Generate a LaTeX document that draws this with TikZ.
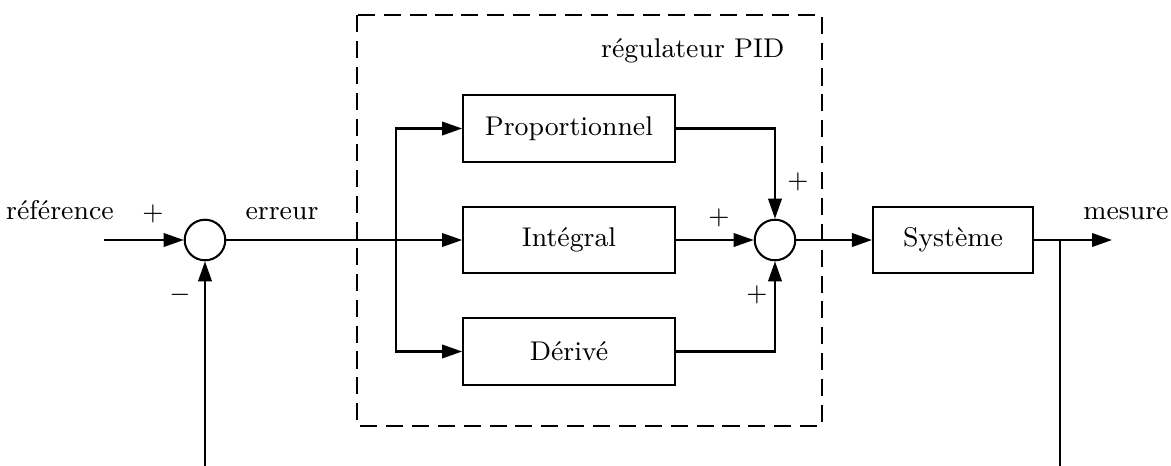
\documentclass[tikz,border=0pt]{standalone}
\usetikzlibrary{arrows.meta}
\begin{document}
\begin{tikzpicture}[x=0.34pt,y=-0.34pt,
  font=\fontsize{9.2pt}{11pt}\selectfont,
  blockbox/.style={draw, line width=0.7pt, minimum width=72pt, minimum height=22.6pt, inner sep=0pt},
  sumnode/.style={draw, circle, line width=0.7pt, minimum size=13.8pt, inner sep=0pt},
  conn/.style={line width=0.7pt},
  arr/.style={conn, -{Triangle[length=6.8pt,width=4.6pt]}},
  lbl/.style={inner sep=0pt, anchor=base},
  sign/.style={inner sep=0pt},
  pidframe/.style={line width=0.9pt, dash pattern=on 5.8pt off 3pt}]
\useasboundingbox (0,0) rectangle (1171,465);
% frame
\draw[pidframe] (357,15) rectangle (822,426);
\node[lbl, anchor=base east] (pidlbl) at (785,57) {régulateur PID};
% nodes
\node[sumnode] (s1) at (205,240) {};
\node[sumnode] (s2) at (775,240) {};
\node[blockbox] (P) at (569,128.5) {Proportionnel};
\node[blockbox] (I) at (569,240) {Intégral};
\node[blockbox] (D) at (569,351.5) {Dérivé};
\node[blockbox, minimum width=54.4pt, minimum height=22.2pt] (S) at (953,240) {Système};
% coordinates
\coordinate (in) at (104,240);
\coordinate (br) at (396,240);
\coordinate (fb) at (1060,240);
\coordinate (out) at (1112,240);
\coordinate (fbb) at (1060,500);
% connectors
\draw[arr] (in) -- (s1.west);
\draw[conn] (s1.east) -- (br);
\draw[arr] (br) -- (I.west);
\draw[arr] (br) |- (P.west);
\draw[arr] (br) |- (D.west);
\draw[arr] (P.east) -| (s2.north);
\draw[arr] (I.east) -- (s2.west);
\draw[arr] (D.east) -| (s2.south);
\draw[arr] (s2.east) -- (S.west);
\draw[arr] (S.east) -- (out);
\draw[arr] (fb) -- (fbb) -| (s1.south);
% labels
\node[lbl] (lref) at (60,219) {référence};
\node[lbl] (lerr) at (282,219) {erreur};
\node[lbl] (lmes) at (1126,219) {mesure};
\node[sign] (p1) at (153,214) {$+$};
\node[sign] (m1) at (180,295) {$-$};
\node[sign] (p2) at (798,182) {$+$};
\node[sign] (p3) at (719,218) {$+$};
\node[sign] (p4) at (757,295) {$+$};
\end{tikzpicture}
\end{document}
